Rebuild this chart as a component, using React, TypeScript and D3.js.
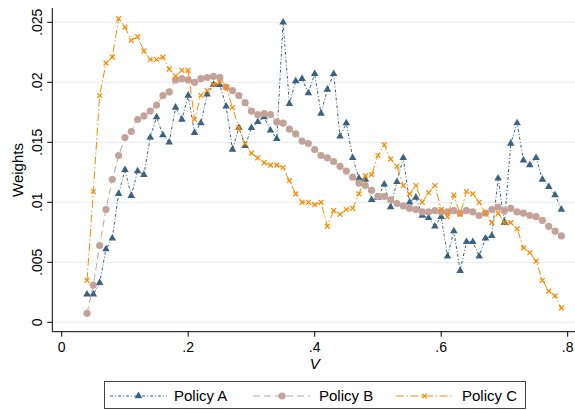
import React from "react";
import * as d3 from "d3";

// Grid of V values shared by all three policies
const vValues = [
  0.04, 0.05, 0.06, 0.07, 0.08, 0.09, 0.1, 0.11, 0.12, 0.13, 0.14, 0.15, 0.16, 0.17, 0.18, 0.19,
  0.2, 0.21, 0.22, 0.23, 0.24, 0.25, 0.26, 0.27, 0.28, 0.29, 0.3, 0.31, 0.32, 0.33, 0.34, 0.35,
  0.36, 0.37, 0.38, 0.39, 0.4, 0.41, 0.42, 0.43, 0.44, 0.45, 0.46, 0.47, 0.48, 0.49, 0.5, 0.51,
  0.52, 0.53, 0.54, 0.55, 0.56, 0.57, 0.58, 0.59, 0.6, 0.61, 0.62, 0.63, 0.64, 0.65, 0.66, 0.67,
  0.68, 0.69, 0.7, 0.71, 0.72, 0.73, 0.74, 0.75, 0.76, 0.77, 0.78, 0.79,
];

const policyA = [
  0.00233, 0.00233, 0.0033, 0.0061, 0.007, 0.0107, 0.0127, 0.01055, 0.0126, 0.0123, 0.0154, 0.0171,
  0.0156, 0.015, 0.0179, 0.0169, 0.0189, 0.0158, 0.0166, 0.019, 0.0198, 0.0198, 0.018, 0.0144,
  0.0162, 0.0147, 0.0162, 0.0167, 0.0171, 0.016, 0.0153, 0.025, 0.0182, 0.0201, 0.0203, 0.0191,
  0.0207, 0.0174, 0.0194, 0.0207, 0.0155, 0.0166, 0.0137, 0.012, 0.0119, 0.0102, 0.0104, 0.0115,
  0.0096, 0.0117, 0.0137, 0.01, 0.0104, 0.0089, 0.0087, 0.008, 0.0088, 0.0055, 0.0076, 0.0043,
  0.0067, 0.0067, 0.0055, 0.007, 0.0072, 0.012, 0.0083, 0.0149, 0.0166, 0.0135, 0.0131, 0.0137,
  0.0119, 0.0113, 0.0106, 0.0094,
];

const policyB = [
  0.00075, 0.0031, 0.0064, 0.0094, 0.0119, 0.0139, 0.0154, 0.0159, 0.0169, 0.0172, 0.0176, 0.0181,
  0.0189, 0.0192, 0.0202, 0.0203, 0.0202, 0.02, 0.0203, 0.0204, 0.0205, 0.0204, 0.0196, 0.0193,
  0.0189, 0.0183, 0.0176, 0.0173, 0.0174, 0.0173, 0.0167, 0.0166, 0.0161, 0.0157, 0.0151, 0.0149,
  0.0144, 0.0139, 0.0137, 0.0134, 0.013, 0.0126, 0.0121, 0.0116, 0.0114, 0.011, 0.0105, 0.0105,
  0.0102, 0.0099, 0.0097, 0.0095, 0.0094, 0.0092, 0.0092, 0.0093, 0.0092, 0.0092, 0.0093, 0.0091,
  0.0093, 0.0092, 0.0089, 0.0091, 0.0094, 0.0096, 0.0093, 0.0095, 0.0092, 0.0091, 0.0089, 0.0088,
  0.0085, 0.008, 0.0076, 0.0072,
];

const policyC = [
  0.0035, 0.0109, 0.0189, 0.0216, 0.0221, 0.0253, 0.0246, 0.0235, 0.0238, 0.0226, 0.0219, 0.0219,
  0.0221, 0.0211, 0.0205, 0.021, 0.021, 0.0169, 0.0189, 0.0193, 0.0198, 0.02, 0.0196, 0.0179,
  0.0162, 0.0149, 0.0141, 0.0137, 0.0133, 0.0131, 0.0131, 0.0129, 0.0118, 0.0107, 0.01, 0.01,
  0.0098, 0.01, 0.008, 0.0093, 0.009, 0.0094, 0.0095, 0.0107, 0.0122, 0.0123, 0.0139, 0.0148,
  0.0136, 0.013, 0.0114, 0.0107, 0.0114, 0.01, 0.0108, 0.0114, 0.0094, 0.0088, 0.0106, 0.009,
  0.0109, 0.0107, 0.01, 0.0091, 0.0083, 0.0091, 0.0083, 0.0083, 0.0078, 0.0062, 0.0058, 0.0051,
  0.0035, 0.0026, 0.0022, 0.0012,
];

const seriesNames = ["Policy A", "Policy B", "Policy C"];
const xTicks = [0, 0.2, 0.4, 0.6, 0.8];
const yTicks = [0, 0.005, 0.01, 0.015, 0.02, 0.025];

const W = 575;
const H = 410;
const FONT = "'Liberation Sans', Arial, Helvetica, sans-serif";

const x = d3.scaleLinear().domain([0, 0.8]).range([61.7, 567.7]);
const y = d3.scaleLinear().domain([0, 0.025]).range([322.3, 22.3]);

const axisX = 52.3;
const axisY = 331.7;
const axisTop = 8;
const axisRight = 576;

const fmt = (v: number) => {
  if (v === 0) return "0";
  return d3.format("")(v).replace(/^0/, "");
};

type Marker = "triangle" | "circle" | "x";

const styles: { color: string; dash: string; marker: Marker }[] = [
  { color: "#3b6283", dash: "3,2,1,2", marker: "triangle" },
  { color: "#c3a399", dash: "7,4", marker: "circle" },
  { color: "#ff8a00", dash: "8,2.5,1.5,2.5", marker: "x" },
];

function MarkerShape({ kind, cx, cy, color }: { kind: Marker; cx: number; cy: number; color: string }) {
  if (kind === "triangle") {
    const s = 7.6;
    const h = (s * Math.sqrt(3)) / 2;
    const pts = [
      [cx, cy - (2 * h) / 3],
      [cx - s / 2, cy + h / 3],
      [cx + s / 2, cy + h / 3],
    ]
      .map((p) => p.join(","))
      .join(" ");
    return <polygon points={pts} fill={color} />;
  }
  if (kind === "circle") {
    return <circle cx={cx} cy={cy} r={3.6} fill={color} />;
  }
  const r = 2.4;
  return (
    <path
      d={`M${cx - r},${cy - r}L${cx + r},${cy + r}M${cx - r},${cy + r}L${cx + r},${cy - r}`}
      stroke={color}
      strokeWidth={1.3}
      fill="none"
    />
  );
}

export default function App() {
  const allSeries = [policyA, policyB, policyC];
  const line = d3
    .line<number>()
    .x((_, i) => x(vValues[i]))
    .y((d) => y(d));

  const legendY = 396;
  const legendItems = [
    { x0: 110, x1: 167, mx: 138.5, tx: 174 },
    { x0: 253, x1: 310, mx: 282, tx: 319 },
    { x0: 396, x1: 453, mx: 424.5, tx: 462 },
  ];

  return (
    <svg
      width={W}
      height={H}
      style={{ position: "absolute", left: 0, top: 0, background: "#fff" }}
      fontFamily={FONT}
    >
      <rect x={0} y={0} width={W} height={H} fill="#fff" />

      {/* horizontal gridlines */}
      {yTicks.map((t) => (
        <line key={"g" + t} x1={axisX} x2={axisRight} y1={y(t)} y2={y(t)} stroke="#e9f0f1" strokeWidth={1.3} />
      ))}

      {/* series: lines first, then markers */}
      {allSeries.map((s, si) => (
        <g key={"s" + si}>
          <path
            d={line(s) || ""}
            fill="none"
            stroke={styles[si].color}
            strokeWidth={1}
            strokeDasharray={styles[si].dash}
          />
          {s.map((v, i) => (
            <MarkerShape key={i} kind={styles[si].marker} cx={x(vValues[i])} cy={y(v)} color={styles[si].color} />
          ))}
        </g>
      ))}

      {/* y axis */}
      <line x1={axisX} x2={axisX} y1={axisTop} y2={axisY} stroke="#000" strokeWidth={1} />
      {yTicks.map((t) => (
        <g key={"yt" + t}>
          <line x1={axisX - 5} x2={axisX} y1={y(t)} y2={y(t)} stroke="#000" strokeWidth={1} />
          <text
            transform={`translate(42,${y(t)}) rotate(-90)`}
            textAnchor="middle"
            fontSize={14}
            fill="#000"
          >
            {fmt(t)}
          </text>
        </g>
      ))}
      <text transform={`translate(23,170) rotate(-90)`} textAnchor="middle" fontSize={15} fill="#000">
        Weights
      </text>

      {/* x axis */}
      <line x1={axisX} x2={axisRight} y1={axisY} y2={axisY} stroke="#000" strokeWidth={1} />
      {xTicks.map((t) => (
        <g key={"xt" + t}>
          <line x1={x(t)} x2={x(t)} y1={axisY} y2={axisY + 5} stroke="#000" strokeWidth={1} />
          <text x={x(t)} y={352} textAnchor="middle" fontSize={14} fill="#000">
            {fmt(t)}
          </text>
        </g>
      ))}
      <text x={x(0.4)} y={368.5} textAnchor="middle" fontSize={15} fontStyle="italic" fill="#000">
        V
      </text>

      {/* legend */}
      <rect x={104.5} y={381.5} width={421} height={27} fill="#fff" stroke="#444" strokeWidth={1} />
      {legendItems.map((it, i) => (
        <g key={"lg" + i}>
          <line
            x1={it.x0}
            x2={it.x1}
            y1={legendY}
            y2={legendY}
            stroke={styles[i].color}
            strokeWidth={1}
            strokeDasharray={styles[i].dash}
          />
          <MarkerShape kind={styles[i].marker} cx={it.mx} cy={legendY} color={styles[i].color} />
          <text x={it.tx} y={legendY + 5.3} fontSize={15} fill="#000">
            {seriesNames[i]}
          </text>
        </g>
      ))}
    </svg>
  );
}
